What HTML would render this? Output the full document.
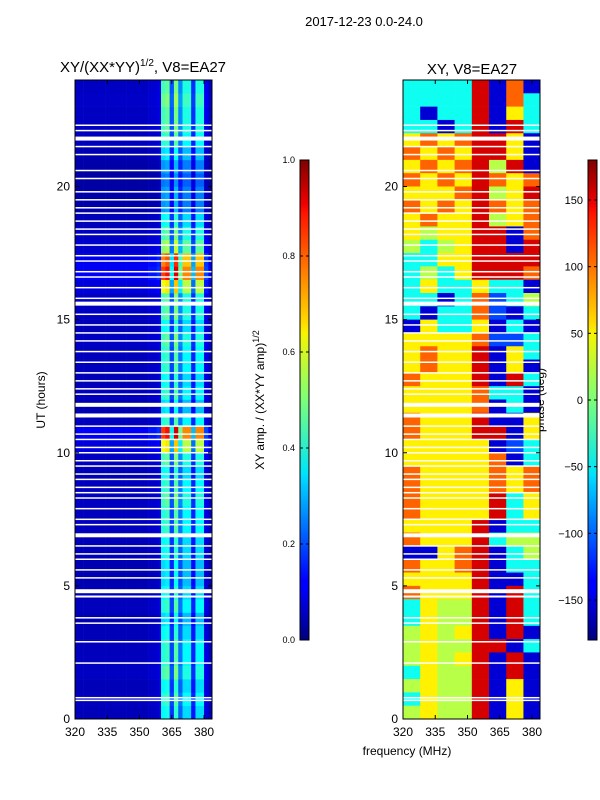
<!DOCTYPE html>
<html><head><meta charset="utf-8"><style>
body{margin:0;background:#fff;}
svg{display:block;font-family:"Liberation Sans","DejaVu Sans",sans-serif;}
</style></head><body>
<svg id="fig" width="600" height="800">
<text x="364" y="26" font-size="13" text-anchor="middle">2017-12-23 0.0-24.0</text>
<text x="143" y="72" font-size="15" text-anchor="middle">XY/(XX*YY)<tspan font-size="10" dy="-6">1/2</tspan><tspan dy="6">, V8=EA27</tspan></text>
<text x="472" y="74" font-size="15" text-anchor="middle">XY, V8=EA27</text>
<text x="407" y="755" font-size="12" text-anchor="middle">frequency (MHz)</text>
<text transform="translate(45,400) rotate(-90)" font-size="12" text-anchor="middle">UT (hours)</text>
<text transform="translate(264,400) rotate(-90)" font-size="12" text-anchor="middle">XY amp. / (XX*YY amp)<tspan font-size="9" dy="-5">1/2</tspan></text>
<text transform="translate(544,400) rotate(-90)" font-size="12" text-anchor="middle">phase (deg)</text>
<defs>
<linearGradient id="jet" x1="0" y1="1" x2="0" y2="0">
<stop offset="0" stop-color="#00007f"/><stop offset="0.11" stop-color="#0000ff"/><stop offset="0.125" stop-color="#0000ff"/>
<stop offset="0.34" stop-color="#00dbff"/><stop offset="0.35" stop-color="#00e5f7"/><stop offset="0.5" stop-color="#7cff79"/>
<stop offset="0.64" stop-color="#f7f400"/><stop offset="0.66" stop-color="#ffdb00"/><stop offset="0.89" stop-color="#ff1300"/>
<stop offset="0.91" stop-color="#ee0000"/><stop offset="1" stop-color="#7f0000"/>
</linearGradient>
</defs>
<g id="left"></g>
<g id="right"></g>
<rect x="300" y="160" width="9" height="480" fill="url(#jet)" stroke="#000" stroke-width="1"/>
<rect x="588" y="160" width="9" height="480" fill="url(#jet)" stroke="#000" stroke-width="1"/>
<g id="axes"></g>
</svg>
<script>
const NS="http://www.w3.org/2000/svg";
// ---- data ----
const freqMin=320, freqMax=383.7, hourMin=0, hourMax=24;
const xTicks=[320,335,350,365,380];
const yTicks=[0,5,10,15,20];
const ampTicks=[0.0,0.2,0.4,0.6,0.8,1.0];
const phaseTicks=[150,100,50,0,-50,-100,-150];
// amplitude per 2 MHz channel (320..384)
const chanAmp=[0.05,0.05,0.05,0.05,0.05,0.05,0.05,0.05,0.05,0.05,0.05,0.05,0.05,0.05,0.05,0.05,0.05,0.06,0.06,0.07,0.34,0.36,0.16,0.38,0.2,0.31,0.31,0.13,0.31,0.31,0.08,0.05];
// gain per 0.5 h row (0h upward)
const rowGain=[1.1,1.2,1.1,1.3,1.2,1.2,1.1,1.0,1.2,1.1,1.0,1.0,1.1,1.1,1.2,1.2,1.3,1.2,1.1,1.3,1.8,2.4,1.2,1.0,1.2,1.1,1.2,1.2,1.3,1.1,1.3,1.3,1.8,2.4,2.2,1.5,1.3,1.1,0.8,0.8,0.7,0.8,1.0,1.2,1.3,1.3,1.4,1.3];
// phase level codes per 0.5 h row, top (23.5h) first, 8 blocks of 8 MHz
const phaseRows=["ccccrbob","ccccrboc","cbccrbyc","ccbcrbrc","yoyorryb","oyoyrryb","yoyorgrb","oyoyroyo",
"yyyorgyr","oyoyroyo","yoyyrgyo","ygyyrrbo","gcgyrrbr","ccyyrrrr","cgcyrrro","cyccyccb",
"ccbcoBcg","cbccoBbc","byccybcb","yyyyoBBc","yoyyrbyc","yoyyrbyb","oyyyrbrc","yyyyoccb",
"yyyyobcb","oyyyrbby","oyyyrrby","yyyyybBc","yyyyyobc","oyyyyoyo","oyyyyoyo","oyyyyrcy",
"oyyyyrcy","yyyyrbcc","oyyyrcgg","bbyorbcg","oyyorbcc","yyyyrbbc","oyyyrbrc","cyggrbrc",
"cyggrbrc","gygyrbrb","gyggrrbc","gygyrbrb","cyggrbrb","gyggrbyb","cyggrbyb","gyggrbyb"];
const phaseCodes={b:-150,B:-110,c:-40,g:20,y:50,o:100,r:150,d:175};
// flagged (white) hours and widths
const gapHours=[0.7,0.8,2.1,2.9,3.6,3.8,4.6,4.8,5.3,5.6,6.0,6.2,6.5,6.9,7.3,7.5,7.9,8.3,8.5,8.7,9.0,9.2,9.5,9.7,10.0,10.2,10.5,10.7,11.0,11.4,11.8,12.2,12.4,12.7,13.0,13.4,13.8,14.2,14.5,14.8,15.2,15.6,15.8,16.2,16.6,16.8,17.2,17.4,17.8,18.2,18.4,18.7,19.0,19.2,19.5,19.8,20.3,20.6,21.2,21.5,21.8,22.1,22.3];
const gapWidth=[1.5,1.5,1.5,1.5,1.5,1.5,2,4,1.5,1.5,1.5,1.5,1.5,4,1.5,1.5,1.5,1.5,1.5,1.5,1.5,1.5,1.5,1.5,1.5,1.5,1.5,1.5,1.5,4,4,1.5,1.5,1.5,1.5,1.5,1.5,1.5,1.5,1.5,1.5,4,1.5,1.5,1.5,1.5,1.5,1.5,1.5,1.5,1.5,1.5,1.5,1.5,1.5,1.5,1.5,1.5,1.5,1.5,4,1.5,1.5];
// ---- helpers ----
function jet(v){v=Math.max(0,Math.min(1,v));
 const r=Math.max(0,Math.min(1,1.5-Math.abs(4*v-3))),g=Math.max(0,Math.min(1,1.5-Math.abs(4*v-2))),b=Math.max(0,Math.min(1,1.5-Math.abs(4*v-1)));
 return `rgb(${Math.round(r*255)},${Math.round(g*255)},${Math.round(b*255)})`;}
function mk(tag,attrs,parent){const e=document.createElementNS(NS,tag);for(const k in attrs)e.setAttribute(k,attrs[k]);parent.appendChild(e);return e;}
const panels=[{x0:75,x1:212,g:document.getElementById('left')},{x0:403,x1:540,g:document.getElementById('right')}];
const yTop=80,yBot=719;
function yScale(h){return yBot-(h-hourMin)/(hourMax-hourMin)*(yBot-yTop);}
function xScale(p,f){return p.x0+(f-freqMin)/(freqMax-freqMin)*(p.x1-p.x0);}
// left heatmap
{const p=panels[0];
 for(let r=0;r<rowGain.length;r++){for(let c=0;c<chanAmp.length;c++){
  const f0=320+c*2,f1=Math.min(freqMax,f0+2);if(f0>=freqMax)continue;
  const xa=xScale(p,f0),xb=xScale(p,f1),ya=yScale(r*0.5+0.5),yb=yScale(r*0.5);
  const cell=mk('rect',{x:xa,y:ya,width:xb-xa+0.3,height:yb-ya+0.3,fill:jet(chanAmp[c]*rowGain[r])},p.g);
  
  
 }}}
// right heatmap
{const p=panels[1];
 for(let i=0;i<phaseRows.length;i++){const h=23.5-i*0.5;
  for(let c=0;c<8;c++){const f0=320+c*8,f1=Math.min(freqMax,f0+8);
   const ph=phaseCodes[phaseRows[i][c]];
   const xa=xScale(p,f0),xb=xScale(p,f1),ya=yScale(h+0.5),yb=yScale(h);
   const cell=mk('rect',{x:xa,y:ya,width:xb-xa+0.3,height:yb-ya+0.3,fill:jet((ph+180)/360)},p.g);
   
   
 }}}
// gaps
for(const p of panels){gapHours.forEach((h,i)=>{
 const gp=mk('rect',{x:p.x0,y:yScale(h)-gapWidth[i]/2,width:p.x1-p.x0,height:gapWidth[i],fill:'#fff'},p.g);
 
 
});}
// axes
const ax=document.getElementById('axes');
for(const [k,p] of panels.entries()){
 const fr=mk('rect',{x:p.x0,y:yTop,width:p.x1-p.x0,height:yBot-yTop,fill:'none',stroke:'#000','stroke-width':1},ax);
 
 
 xTicks.forEach(f=>{const x=xScale(p,f);
  mk('line',{x1:x,x2:x,y1:yBot,y2:yBot-4,stroke:'#000'},ax);mk('line',{x1:x,x2:x,y1:yTop,y2:yTop+4,stroke:'#000'},ax);
  const t=mk('text',{x:x,y:yBot+17,'font-size':12,'text-anchor':'middle'},ax);t.textContent=f;
  
  });
 yTicks.forEach(h=>{const y=yScale(h);
  mk('line',{x1:p.x0,x2:p.x0+4,y1:y,y2:y,stroke:'#000'},ax);mk('line',{x1:p.x1,x2:p.x1-4,y1:y,y2:y,stroke:'#000'},ax);
  const t=mk('text',{x:p.x0-5,y:y+4,'font-size':12,'text-anchor':'end'},ax);t.textContent=h;
  
  });
}
ampTicks.forEach(v=>{const y=640-v*480;
 mk('line',{x1:300,x2:303,y1:y,y2:y,stroke:'#000'},ax);mk('line',{x1:309,x2:306,y1:y,y2:y,stroke:'#000'},ax);
 const t=mk('text',{x:295,y:y+3,'font-size':9,'text-anchor':'end'},ax);t.textContent=v.toFixed(1);
 
 });
phaseTicks.forEach(v=>{const y=400-v*480/360;
 mk('line',{x1:588,x2:591,y1:y,y2:y,stroke:'#000'},ax);mk('line',{x1:597,x2:594,y1:y,y2:y,stroke:'#000'},ax);
 const t=mk('text',{x:583,y:y+4,'font-size':11,'text-anchor':'end'},ax);t.textContent=v<0?'\u2212'+(-v):v;
 
 });
</script>
</body></html>
